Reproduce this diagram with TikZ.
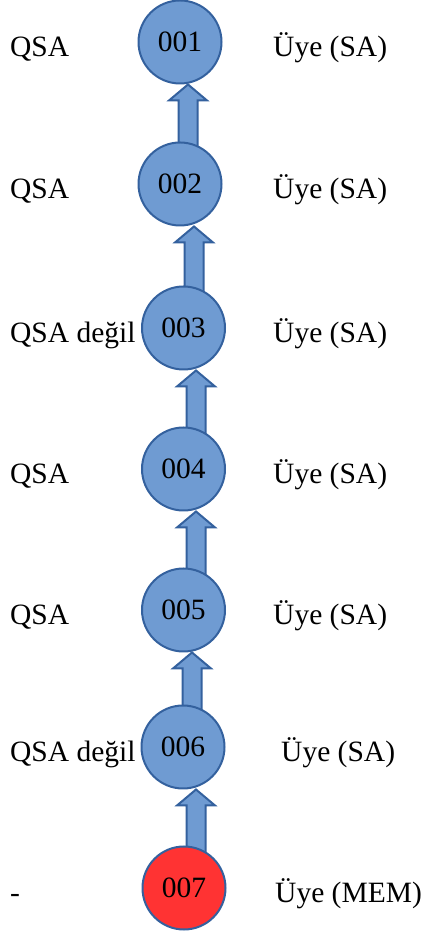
\documentclass[tikz,border=0pt]{standalone}
\usepackage{fontspec}
\setmainfont{Liberation Serif}
\usetikzlibrary{calc,backgrounds}
\definecolor{bubbleblue}{RGB}{111,155,210}
\definecolor{bubbleedge}{RGB}{52,97,158}
\definecolor{bubblered}{RGB}{255,51,51}
\tikzset{
  bubble/.style={circle,draw=bubbleedge,fill=bubbleblue,line width=2pt,minimum size=83pt,inner sep=0pt,font=\fontsize{29.5}{35}\selectfont},
  lbl/.style={anchor=base west,inner sep=0pt,font=\fontsize{29.5}{35}\selectfont},
  blockarrow/.style={draw=bubbleedge,fill=bubbleblue,line width=2pt,line join=miter}
}
\begin{document}
\begin{tikzpicture}[x=1pt,y=1pt]
    \useasboundingbox (0,0) rectangle (422,933);
    \foreach \i/\x/\y/\ltext/\rx in {1/180/891/QSA/273, 2/180/749/QSA/273, 3/183.5/605/QSA değil/273, 4/183.5/464/QSA/273, 5/183.5/323/QSA/273, 6/183/186/QSA değil/281} {
        \node[bubble] (c\i) at (\x,\y) {00\i};
        \node[lbl] (l\i) at (10,\y-15) {\ltext};
        \node[lbl] (r\i) at (\rx,\y-15) {Üye (SA)};
    }
    \node[bubble,fill=bubblered] (c7) at (184,45) {007};
    \node[lbl] (l7) at (10,30) {-};
    \node[lbl] (r7) at (275,30) {Üye (MEM)};
    \begin{pgfonlayer}{background}
        \foreach \lo/\up/\dx in {c2/c1/8, c3/c2/14, c4/c3/12.5, c5/c4/12.5, c6/c5/8.5, c7/c6/13} {
            \coordinate (tip) at ($(\up.south)+(\dx,0)$);
            \coordinate (tail) at ($(\lo.north)+(0,-10)$);
            \draw[blockarrow] (tip) -- ++(19,-16) -- ++(-9.5,0)
                -- ($(tip |- tail)+(9.5,0)$) -- ($(tip |- tail)+(-9.5,0)$)
                -- ($(tip)+(-9.5,-16)$) -- ++(-9.5,0) -- cycle;
        }
    \end{pgfonlayer}
\end{tikzpicture}
\end{document}
